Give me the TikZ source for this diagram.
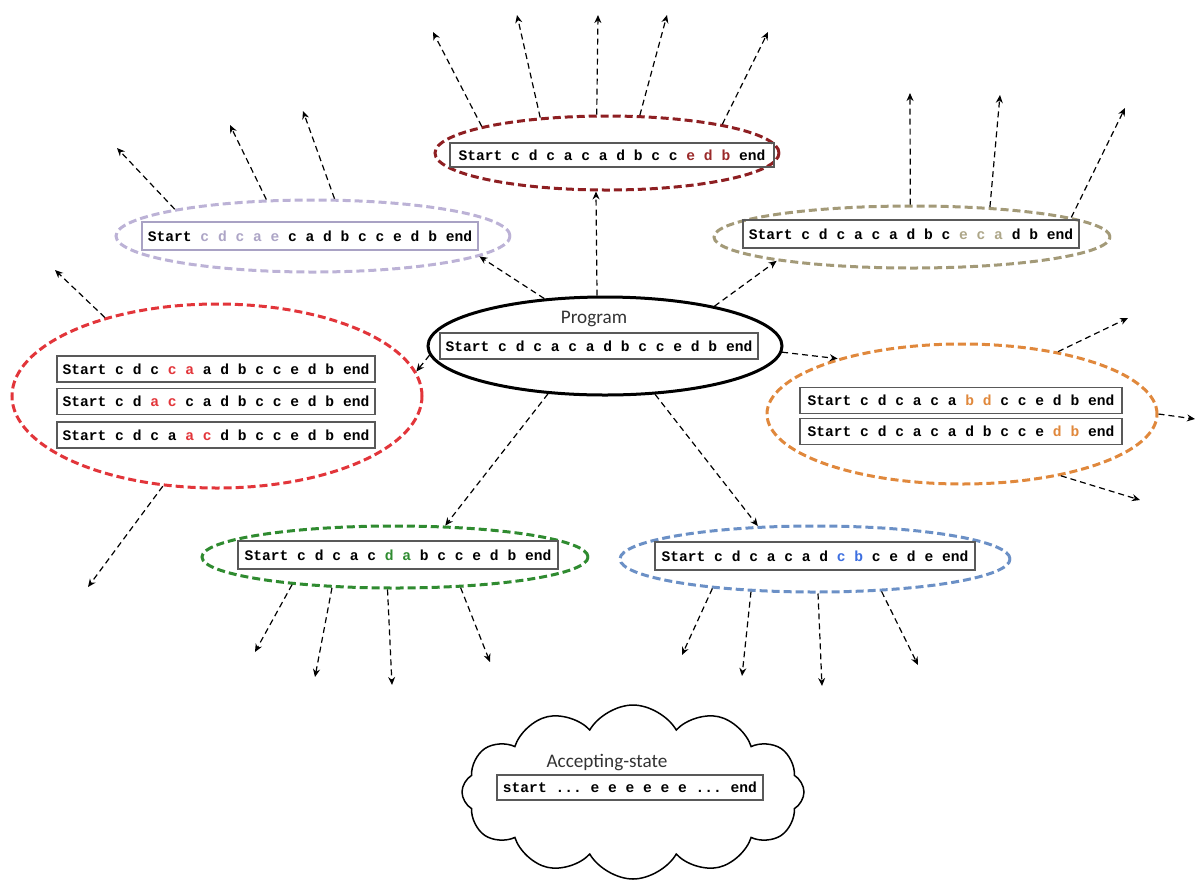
\documentclass[tikz,border=0pt]{standalone}
\usepackage{fontspec}
\setmonofont{Liberation Mono}
\newfontfamily\carlito{Carlito}
\usetikzlibrary{shapes.geometric,shapes.symbols,arrows.meta}
\definecolor{cTop}{HTML}{8E1F22}
\definecolor{cTopT}{HTML}{9A2A2A}
\definecolor{cPur}{HTML}{BCB2D6}
\definecolor{cPurT}{HTML}{ADA5C6}
\definecolor{cPurB}{HTML}{A9A2C4}
\definecolor{cOli}{HTML}{A39A78}
\definecolor{cOliT}{HTML}{ADA688}
\definecolor{cRed}{HTML}{E2353A}
\definecolor{cOra}{HTML}{E0883C}
\definecolor{cGrn}{HTML}{2F8B30}
\definecolor{cBlu}{HTML}{6B90C6}
\definecolor{cBluT}{HTML}{3D6FE0}
\newcommand\codefnt{\ttfamily\bfseries\fontsize{7.3}{9}\selectfont}
\newcommand\colr[2]{\textcolor{#1}{#2}}
\tikzset{
  ell/.style={ellipse, draw=#1, line width=1.5pt, dash pattern=on 4pt off 2pt, inner sep=0pt},
  strbox/.style={draw=black!65, line width=0.7pt, inner sep=0pt, font=\codefnt},
  arr/.style={-{Stealth[length=4pt,width=3.5pt]}, dash pattern=on 3pt off 2pt, line width=0.6pt},
  lbl/.style={font=\carlito\fontsize{9.6}{11}\selectfont, text=black!80, inner sep=0pt}
}
\begin{document}
\begin{tikzpicture}[x=0.5pt,y=-0.5pt]
\useasboundingbox (0,0) rectangle (1196,880);
% ellipses
\node[ell=cTop, minimum width=172pt, minimum height=37pt] (topr) at (607,153) {};
\node[ell=cPur, minimum width=197pt, minimum height=36pt] (pur) at (313,236) {};
\node[ell=cOli, minimum width=198pt, minimum height=31pt] (oli) at (912,237) {};
\node[ellipse, draw, line width=1.5pt, inner sep=0pt, minimum width=177pt, minimum height=49pt] (prog) at (605,346) {};
\node[ell=cRed, minimum width=205pt, minimum height=92pt] (red) at (217,396) {};
\node[ell=cOra, minimum width=195pt, minimum height=70pt] (ora) at (962,414) {};
\node[ell=cGrn, minimum width=193pt, minimum height=31pt] (grn) at (395,557) {};
\node[ell=cBlu, minimum width=195pt, minimum height=33pt] (blu) at (815,559) {};
\node[cloud, draw, line width=0.75pt, cloud puffs=12, cloud puff arc=120, minimum width=171pt, minimum height=87pt] (cld) at (633,792) {};
% labels
\node[lbl] (proglbl) at (594,319) {Program};
\node[lbl] (acclbl) at (607,763) {Accepting-state};
% boxes
\node[strbox, minimum width=162pt, minimum height=12pt] (btop) at (612,155) {Start c d c a c a d b c c \colr{cTopT}{e d b} end};
\node[strbox, draw=cPurB, minimum width=168pt, minimum height=14pt] (bpur) at (310,236) {Start \colr{cPurT}{c d c a e} c a d b c c e d b end};
\node[strbox, minimum width=168pt, minimum height=14pt] (boli) at (911,234) {Start c d c a c a d b c \colr{cOliT}{e c a} d b end};
\node[strbox, minimum width=159pt, minimum height=13pt] (bprog) at (599,346) {Start c d c a c a d b c c e d b end};
\node[strbox, minimum width=159pt, minimum height=13pt] (bred1) at (216,369) {Start c d c \colr{cRed}{c a} a d b c c e d b end};
\node[strbox, minimum width=159pt, minimum height=13pt] (bred2) at (216,401.5) {Start c d \colr{cRed}{a c} c a d b c c e d b end};
\node[strbox, minimum width=159pt, minimum height=13pt] (bred3) at (216,435) {Start c d c a \colr{cRed}{a c} d b c c e d b end};
\node[strbox, minimum width=161pt, minimum height=13pt] (bora1) at (961,400.5) {Start c d c a c a \colr{cOra}{b d} c c e d b end};
\node[strbox, minimum width=161pt, minimum height=13pt] (bora2) at (961,431.5) {Start c d c a c a d b c c e \colr{cOra}{d b} end};
\node[strbox, minimum width=160pt, minimum height=14pt] (bgrn) at (398,555) {Start c d c a c \colr{cGrn}{d a} b c c e d b end};
\node[strbox, minimum width=160pt, minimum height=14pt] (bblu) at (815,556) {Start c d c a c a d \colr{cBluT}{c b} c e d e end};
\node[strbox, minimum width=133pt, minimum height=12.5pt] (bcld) at (630,787.5) {start ... e e e e e e ... end};
% program to children
\draw[arr] (prog.99.3) -- (topr.254.9);
\draw[arr] (prog.142.5) -- (pur.353.2);
\draw[arr] (prog.20) -- (oli.190.2);
\draw[arr] (prog.183) -- (red.7.6);
\draw[arr] (prog.358) -- (ora.156.5);
\draw[arr] (prog.220.3) -- (grn.32.6);
\draw[arr] (prog.316.8) -- (blu.150);
% free ends
\coordinate (t1) at (433,32);
\coordinate (t2) at (517,15);
\coordinate (t3) at (598,15);
\coordinate (t4) at (667,15);
\coordinate (t5) at (768,32);
\coordinate (p1) at (117,148);
\coordinate (p2) at (230,125);
\coordinate (p3) at (303,111);
\coordinate (o1) at (910,93);
\coordinate (o2) at (1000,95);
\coordinate (o3) at (1125,108);
\coordinate (r1) at (55,270);
\coordinate (r2) at (88,587);
\coordinate (g1) at (1128,318);
\coordinate (g2) at (1195,419);
\coordinate (g3) at (1140,500);
\coordinate (n1) at (255,652);
\coordinate (n2) at (315,677);
\coordinate (n3) at (392,685);
\coordinate (n4) at (490,662);
\coordinate (b1) at (682,655);
\coordinate (b2) at (742,676);
\coordinate (b3) at (822,686);
\coordinate (b4) at (918,665);
% outgoing
\draw[arr] (topr.168.9) -- (t1);
\draw[arr] (topr.152.2) -- (t2);
\draw[arr] (topr.105.1) -- (t3);
\draw[arr] (topr.49.6) -- (t4);
\draw[arr] (topr.14.9) -- (t5);
\draw[arr] (pur.169) -- (p1);
\draw[arr] (pur.142) -- (p2);
\draw[arr] (pur.60.8) -- (p3);
\draw[arr] (oli.93.7) -- (o1);
\draw[arr] (oli.21.5) -- (o2);
\draw[arr] (oli.7.3) -- (o3);
\draw[arr] (red.145) -- (r1);
\draw[arr] (red.239.7) -- (r2);
\draw[arr] (ora.33.5) -- (g1);
\draw[arr] (ora.0) -- (g2);
\draw[arr] (ora.328.3) -- (g3);
\draw[arr] (grn.195.4) -- (n1);
\draw[arr] (grn.206.2) -- (n2);
\draw[arr] (grn.257.3) -- (n3);
\draw[arr] (grn.335.1) -- (n4);
\draw[arr] (blu.196.9) -- (b1);
\draw[arr] (blu.207.6) -- (b2);
\draw[arr] (blu.275.2) -- (b3);
\draw[arr] (blu.334.4) -- (b4);
\end{tikzpicture}
\end{document}
